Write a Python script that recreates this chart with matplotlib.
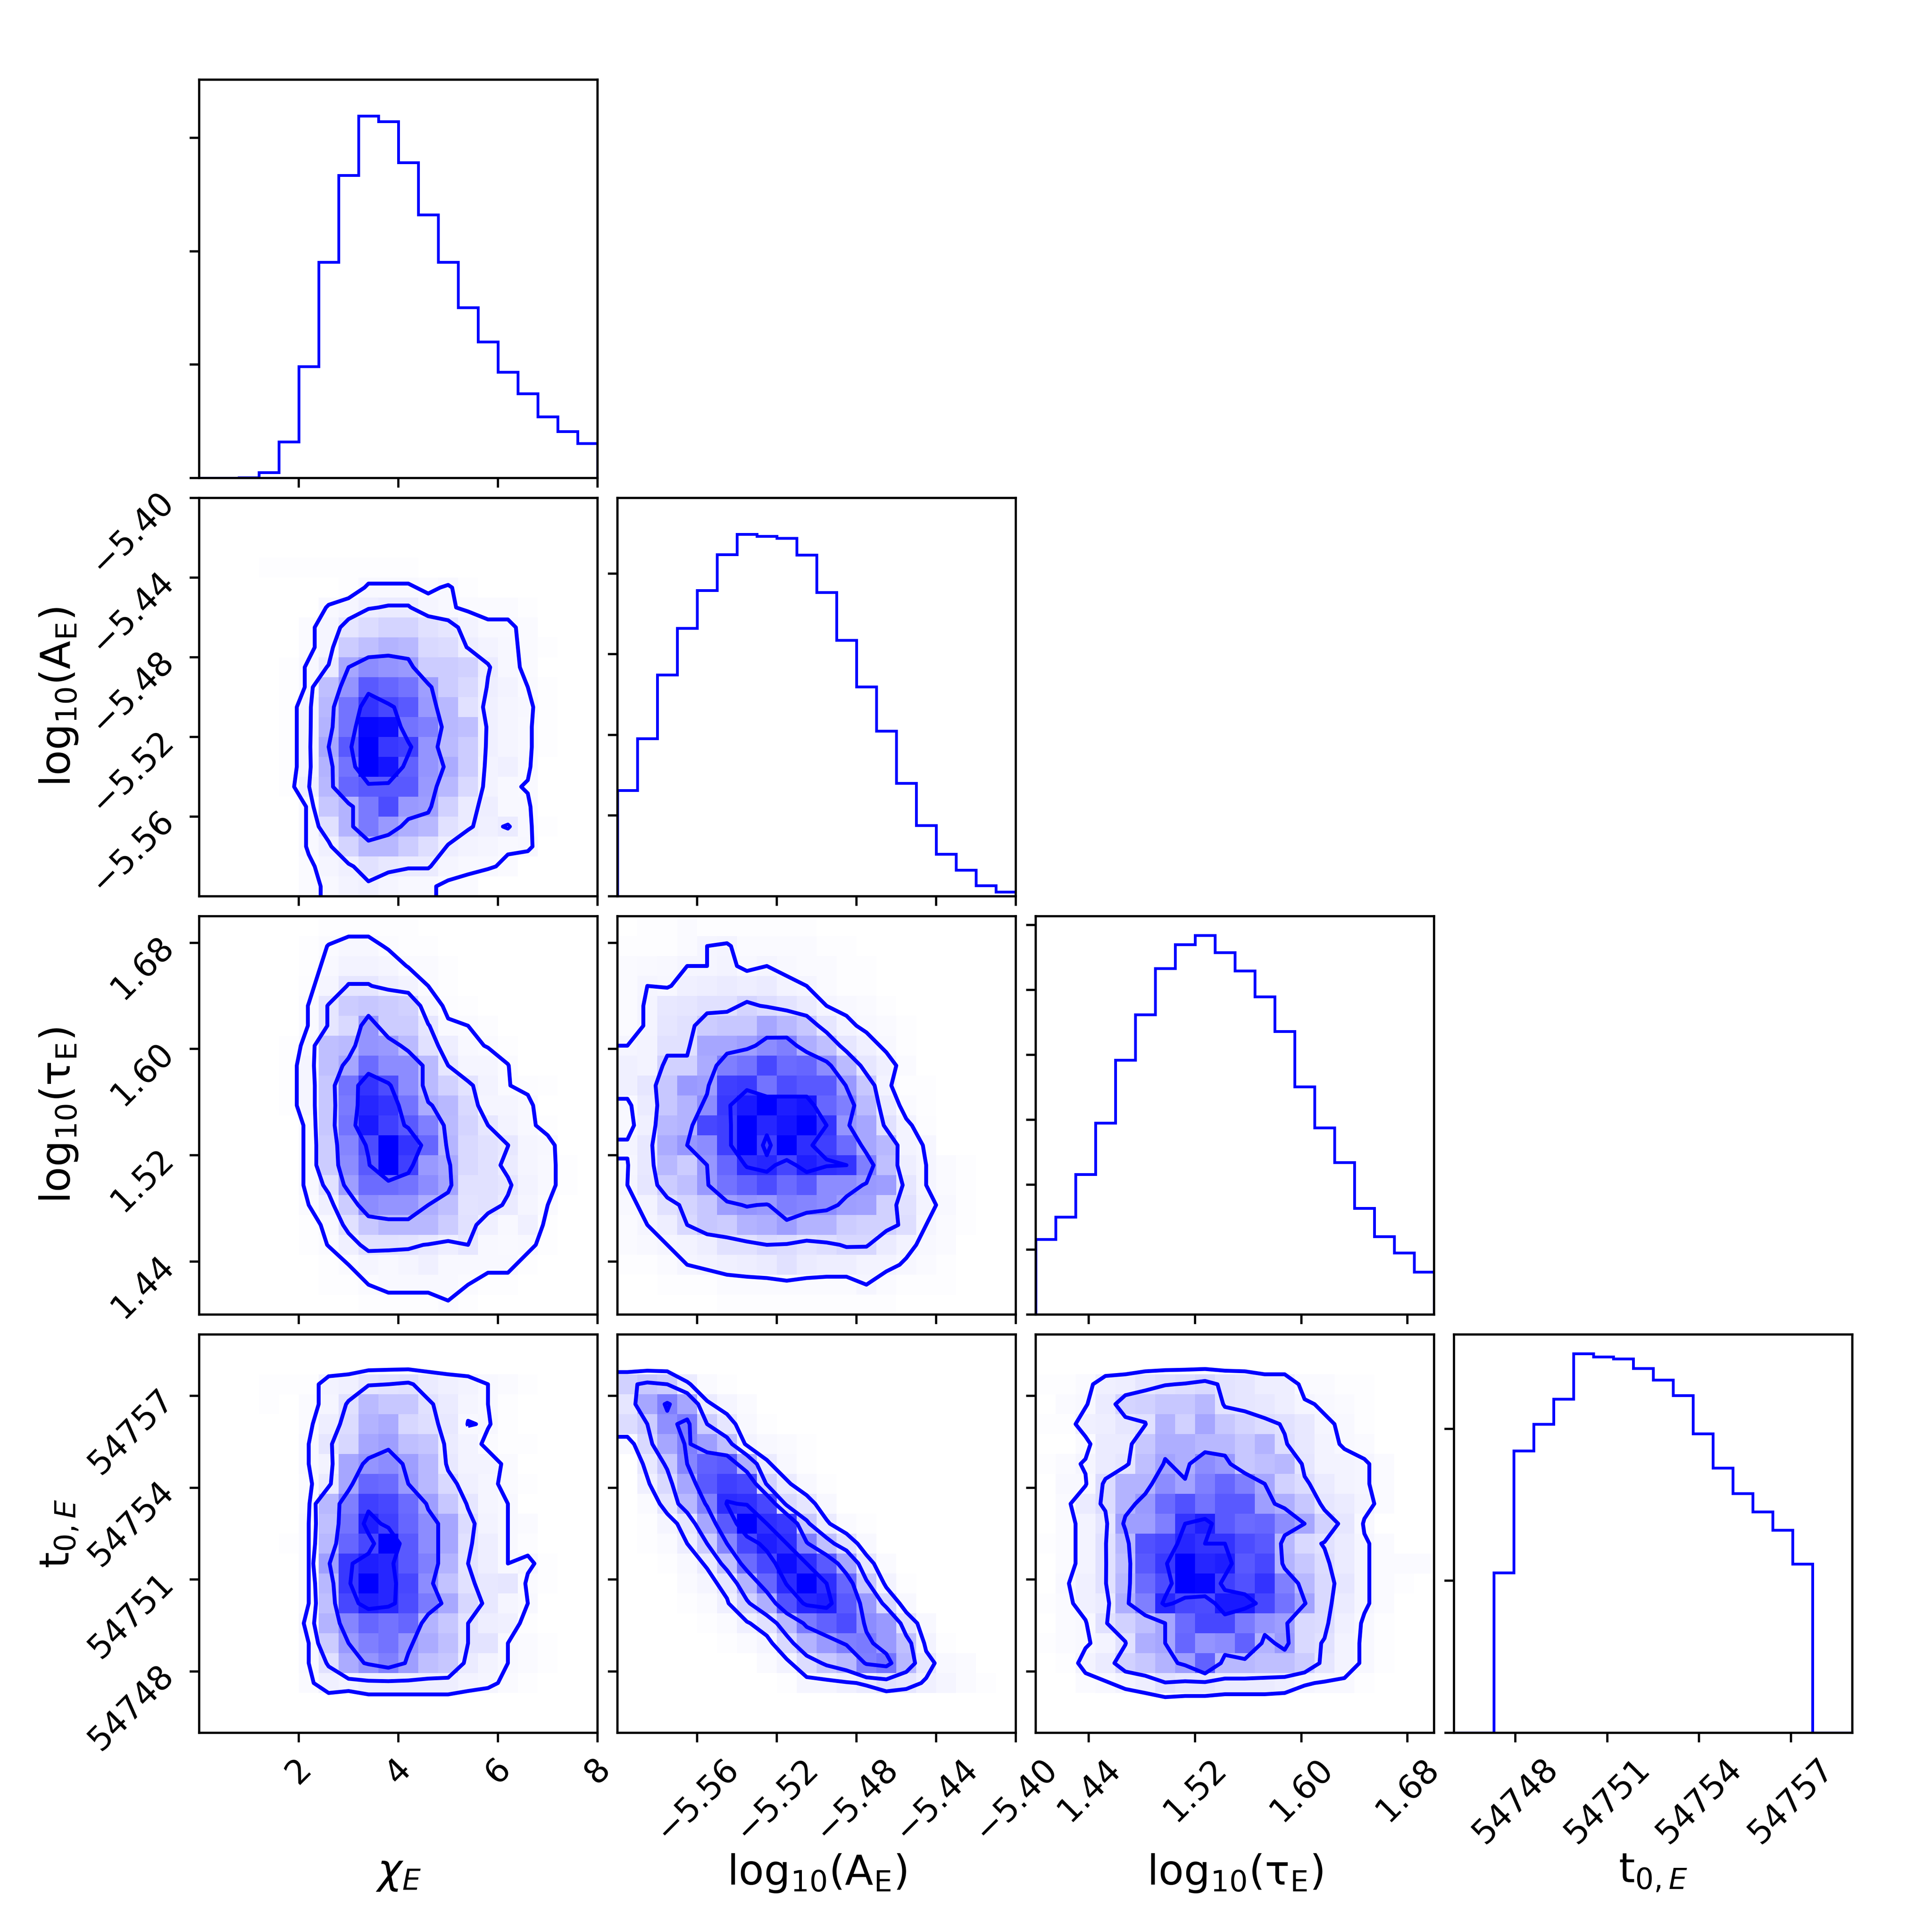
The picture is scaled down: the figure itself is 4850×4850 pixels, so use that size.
import numpy as np
import matplotlib
matplotlib.use("Agg")
import matplotlib.pyplot as plt
from matplotlib.colors import LinearSegmentedColormap

labels = [r"$\chi_E$", r"$\mathrm{log_{10}(A_E)}$", r"$\mathrm{log_{10}(\tau_E)}$", r"$\mathrm{t}_{0,E}$"]
limits = [(0, 8), (-5.6, -5.4), (1.4, 1.7), (54746, 54759)]
ticks = [[2, 4, 6, 8],
         [-5.56, -5.52, -5.48, -5.44, -5.40],
         [1.44, 1.52, 1.60, 1.68],
         [54748, 54751, 54754, 54757]]
tick_labels = [["2", "4", "6", "8"],
               ["\u22125.56", "\u22125.52", "\u22125.48", "\u22125.44", "\u22125.40"],
               ["1.44", "1.52", "1.60", "1.68"],
               ["54748", "54751", "54754", "54757"]]

# 1d histograms, read in units where 1000 = one y tick
hist_chi = [0, 0, 5, 50, 320, 984, 1903, 2670, 3193, 3142, 2780, 2323, 1903, 1505, 1201, 933, 744, 541, 411, 306]
hist_A = [1315, 1954, 2744, 3325, 3790, 4239, 4489, 4466, 4439, 4233, 3770, 3174, 2597, 2049, 1400, 879, 525, 328, 134, 56]
hist_tau = [1157, 1503, 2159, 2949, 3919, 4619, 5328, 5699, 5841, 5576, 5291, 4892, 4358, 3511, 2876, 2342, 1637, 1202, 949, 656]
hist_t0 = [0, 0, 1053, 1856, 2031, 2195, 2496, 2475, 2460, 2399, 2322, 2219, 1967, 1742, 1574, 1455, 1335, 1110, 0, 0]
hist_ticks = [[0, 1000, 2000, 3000],
              [0, 1000, 2000, 3000, 4000],
              [0, 1000, 2000, 3000, 4000, 5000, 6000],
              [0, 1000, 2000]]
hist_top = [1.1, 1.1, 1.05, 1.05]

# 2d histograms in percent of the peak, top row of the picture first
chi_A = [
    [0]*20,
    [0]*20,
    [0]*20,
    [0, 0, 0, 1, 1, 1, 1, 1, 1, 1, 1, 0, 0, 0, 0, 0, 0, 0, 0, 0],
    [0, 0, 0, 0, 0, 0, 0, 1, 3, 3, 3, 2, 3, 1, 0, 0, 0, 0, 0, 0],
    [0, 0, 0, 0, 0, 0, 3, 4, 7, 8, 8, 4, 3, 2, 2, 2, 1, 0, 0, 0],
    [0, 0, 0, 0, 0, 2, 4, 10, 14, 17, 17, 12, 10, 5, 3, 3, 2, 0, 0, 0],
    [0, 0, 0, 0, 0, 2, 4, 20, 25, 30, 28, 15, 14, 7, 5, 3.2, 2, 1, 0, 0],
    [0, 0, 0, 0, 1, 3, 8, 35, 45, 42, 40, 20, 20, 18, 8, 3.5, 2, 0, 0, 0],
    [0, 0, 0, 0, 1, 3, 25, 42, 65, 60, 55, 38, 20, 15, 7, 5, 2.6, 1, 0, 0],
    [0, 0, 0, 0, 1, 5, 28, 55, 80, 72, 65, 40, 28, 12, 6, 4, 3.2, 1, 0, 0],
    [0, 0, 0, 0, 1, 5, 30, 55, 97, 95, 55, 50, 28, 25, 6, 4, 3, 1, 0, 0],
    [0, 0, 0, 0, 1, 5, 35, 65, 100, 78, 75, 42, 27, 20, 6, 4, 3, 1, 0, 0],
    [0, 0, 0, 0, 1, 5, 30, 55, 100, 92, 62, 42, 33, 20, 5, 6, 3, 0, 0, 0],
    [0, 0, 0, 0, 1, 7, 28, 60, 65, 65, 65, 40, 28, 15, 5, 3, 2.4, 0, 0, 0],
    [0, 0, 0, 0, 0, 3, 22, 30, 52, 70, 40, 38, 18, 8, 7, 3, 3, 0, 0, 0],
    [0, 0, 0, 0, 0, 3, 12, 30, 52, 40, 32, 28, 12, 8, 6, 8, 3, 1, 0, 0],
    [0, 0, 0, 0, 0, 3, 6, 17, 28, 28, 20, 13, 7, 5, 4, 3, 3.4, 0, 0, 0],
    [0, 0, 0, 0, 0, 2, 4, 6, 12, 9, 8, 8, 4, 3, 3, 2, 0, 0, 0, 0],
    [0, 0, 0, 0, 0, 2, 3, 5, 6, 4, 3, 3, 2, 2, 0, 0, 0, 0, 0, 0],
]
chi_tau = [
    [0, 0, 0, 0, 0, 0, 1, 1, 1, 1, 1, 0, 0, 0, 0, 0, 0, 0, 0, 0],
    [0, 0, 0, 0, 0, 1, 2.3, 3.3, 3.3, 1.8, 1, 1, 0, 0, 0, 0, 0, 0, 0, 0],
    [0, 0, 0, 0, 0, 1, 3, 5, 5, 4, 2, 2, 1, 0, 0, 0, 0, 0, 0, 0],
    [0, 0, 0, 0, 0, 1.5, 4, 10, 10, 7, 5, 2.2, 1, 0, 0, 0, 0, 0, 0, 0],
    [0, 0, 0, 0, 0, 2.3, 10, 20, 22, 20, 18, 4, 1.5, 1, 0, 0, 0, 0, 0, 0],
    [0, 0, 0, 0, 0, 2.3, 10, 15, 42, 20, 20, 10, 2.6, 2.2, 1.5, 0, 0, 0, 0, 0],
    [0, 0, 0, 0, 1, 3, 25, 27, 42, 40, 27, 12, 7, 3, 2, 1, 0, 0, 0, 0],
    [0, 0, 0, 0, 1, 4, 25, 35, 58, 45, 45, 27, 9.5, 4, 4, 2.3, 0, 0, 0, 0],
    [0, 0, 0, 0, 1, 4, 22, 55, 80, 70, 45, 27, 18, 11, 5, 2.3, 1.5, 1, 0, 0],
    [0, 0, 0, 0, 1, 4, 22, 52, 85, 80, 55, 33, 28, 15, 4, 4, 3, 0, 0, 0],
    [0, 0, 0, 0, 0, 3, 22, 55, 90, 75, 65, 50, 27, 17, 9.5, 5, 3, 1, 0, 0],
    [0, 0, 0, 0, 0, 3, 20, 48, 70, 100, 80, 60, 29, 15, 12, 9.6, 4, 3.4, 0, 0],
    [0, 0, 0, 0, 0, 3, 20, 45, 65, 100, 75, 40, 34, 15, 12, 8, 4, 3, 1, 0],
    [0, 0, 0, 0, 0, 3, 12, 38, 58, 58, 55, 45, 36, 12, 12, 10.5, 5, 3, 1, 0],
    [0, 0, 0, 0, 0, 2.2, 6, 20, 45, 42, 42, 32, 25, 11, 12, 8.5, 4, 2.2, 0, 0],
    [0, 0, 0, 0, 0, 1, 3, 12, 22, 28, 28, 28, 20, 12, 6, 3, 6, 1, 0, 0],
    [0, 0, 0, 0, 0, 1, 2.3, 6, 12, 12, 11, 9, 7, 9.5, 3, 2.5, 3, 1, 0, 0],
    [0, 0, 0, 0, 0, 0, 1, 2.2, 4, 3, 4, 6, 3, 3, 3, 3, 1, 0, 0, 0],
    [0, 0, 0, 0, 0, 0, 1, 1, 2.2, 3, 3, 3, 3, 2.2, 1, 1, 0, 0, 0, 0],
    [0, 0, 0, 0, 0, 0, 0, 0, 1, 1, 1, 1, 2, 1, 0, 0, 0, 0, 0, 0],
]
A_tau = [
    [0, 1, 1, 2, 1, 1, 1, 1, 1, 1, 0, 0, 0, 0, 0, 0, 0, 0, 0, 0],
    [1, 1, 1, 2, 4, 4.5, 2, 2, 2, 2, 1, 1, 0, 0, 0, 0, 0, 0, 0, 0],
    [2, 2.5, 3, 4, 4, 5, 3, 4, 3, 2, 2, 1, 1, 0, 0, 0, 0, 0, 0, 0],
    [2, 4, 3.5, 6, 7, 8, 7, 8, 5, 4, 2, 1, 1, 0, 0, 0, 0, 0, 0, 0],
    [2, 4.5, 9, 10, 12, 12, 17, 14, 11, 8, 4, 3, 2, 1, 0, 0, 0, 0, 0, 0],
    [2, 4.5, 10, 12, 20, 22, 22, 35, 28, 22, 10, 5, 3, 2, 1, 0, 0, 0, 0, 0],
    [4, 5, 12, 12, 35, 35, 38, 45, 50, 32, 25, 10, 6, 3, 1, 0, 0, 0, 0, 0],
    [6, 5, 18, 18, 33, 50, 55, 72, 58, 60, 45, 27, 10, 6, 2, 0, 0, 0, 0, 0],
    [6, 10, 22, 40, 38, 75, 77, 55, 70, 65, 65, 40, 22, 5, 1, 1, 0, 0, 0, 0],
    [3, 8, 22, 30, 45, 78, 90, 100, 88, 92, 60, 50, 27, 8, 2, 1, 0, 0, 0, 0],
    [3, 6, 28, 30, 72, 75, 100, 85, 92, 100, 80, 42, 35, 12, 5, 1.5, 0, 0, 0, 0],
    [4.4, 9, 33, 41, 45, 75, 100, 75, 100, 82, 75, 58, 35, 28, 5, 3.8, 0, 0, 0, 0],
    [3.8, 9, 28, 20, 41, 60, 82, 85, 73, 88, 82, 80, 50, 25, 7, 4, 2, 1, 0, 0],
    [4, 10, 20, 25, 40, 55, 62, 70, 58, 65, 45, 45, 40, 38, 10, 4, 2, 1, 0, 0],
    [3, 5, 12, 17, 22, 38, 42, 40, 50, 48, 45, 38, 37, 18, 12, 5, 3, 1, 0, 0],
    [2, 4, 7, 15, 22, 20, 30, 32, 38, 30, 30, 20, 18, 18, 13, 4, 2, 1, 0, 0],
    [2, 3, 4, 5, 7, 12, 12, 15, 14, 11, 13, 16, 16, 8, 5, 3, 2, 0, 0, 0],
    [1, 1, 2, 4, 5, 6, 7, 8, 12, 8, 7, 7, 5, 5, 3.5, 2, 1, 0, 0, 0],
    [0, 0, 1, 1, 1, 2, 2, 2, 2, 2, 2, 2, 4, 2, 1, 1, 1, 0, 0, 0],
    [0, 0, 0, 0, 0, 1, 1, 1, 1, 1, 1, 1, 1, 1, 0, 0, 0, 0, 0, 0],
]
chi_t0 = [
    [0]*20,
    [0]*20,
    [0, 0, 0, 1, 1, 1, 5, 6, 10, 11, 12, 8, 6, 5, 3, 2, 1, 0, 0, 0],
    [0, 0, 0, 1, 0, 2, 4, 12, 27, 22, 22, 12, 8, 4, 3, 1, 0, 0, 0, 0],
    [0, 0, 0, 0, 0, 2, 7, 14, 30, 33, 16, 13, 9, 2.8, 3.3, 1, 0, 0, 0, 0],
    [0, 0, 0, 0, 0, 3, 10, 16, 35, 38, 25, 23, 8, 5, 2, 1, 1, 0, 0, 0],
    [0, 0, 0, 0, 0, 3, 5, 35, 42, 45, 38, 28, 9, 5, 5, 2, 0, 0, 0, 0],
    [0, 0, 0, 0, 0, 2, 8, 35, 60, 58, 40, 28, 15, 6, 4, 2, 1, 0, 0, 0],
    [0, 0, 0, 0, 0, 2, 28, 50, 75, 72, 58, 38, 22, 10, 4, 3, 0, 0, 0, 0],
    [0, 0, 0, 0, 0, 3, 25, 55, 88, 75, 60, 45, 35, 14, 5, 3, 2, 0, 0, 0],
    [0, 0, 0, 0, 1, 3, 28, 60, 72, 100, 65, 45, 35, 12, 7, 3, 1.5, 0, 0, 0],
    [0, 0, 0, 0, 0, 3, 38, 78, 88, 85, 65, 50, 30, 11, 7, 3, 4, 1, 0, 0],
    [0, 0, 0, 0, 0, 3, 28, 78, 100, 85, 72, 45, 24, 12, 9, 10, 2, 1, 0, 0],
    [0, 0, 0, 0, 0, 3, 25, 72, 88, 85, 70, 52, 34, 16, 9, 4, 3, 0, 0, 0],
    [0, 0, 0, 0, 0, 4, 30, 48, 60, 55, 60, 30, 22, 11, 7, 6, 1, 0, 0, 0],
    [0, 0, 0, 0, 0, 3, 20, 40, 50, 55, 42, 33, 25, 11, 11, 3, 2, 1, 0, 0],
    [0, 0, 0, 0, 0, 3, 12, 33, 42, 50, 38, 25, 22, 8, 5, 3, 2, 1, 0, 0],
    [0, 0, 0, 0, 0, 2, 6, 5, 7, 7, 7, 7, 7, 5, 4, 2, 1, 0, 0, 0],
    [0]*20,
    [0]*20,
]
A_t0 = [
    [0]*20,
    [0]*20,
    [18, 22, 20, 8, 2, 1, 0, 0, 0, 0, 0, 0, 0, 0, 0, 0, 0, 0, 0, 0],
    [10, 35, 50, 35, 8, 4, 2, 0, 0, 0, 0, 0, 0, 0, 0, 0, 0, 0, 0, 0],
    [14, 20, 44, 52, 20, 10, 3, 1, 0, 0, 0, 0, 0, 0, 0, 0, 0, 0, 0, 0],
    [3, 15, 35, 50, 38, 25, 5, 3, 2, 1, 0, 0, 0, 0, 0, 0, 0, 0, 0, 0],
    [0, 9, 22, 48, 62, 65, 32, 8, 3, 1, 0, 0, 0, 0, 0, 0, 0, 0, 0, 0],
    [0, 6, 15, 35, 65, 75, 72, 18, 8, 3, 1, 0, 0, 0, 0, 0, 0, 0, 0, 0],
    [0, 2, 10, 28, 50, 83, 81, 72, 15, 10, 3, 0, 0, 0, 0, 0, 0, 0, 0, 0],
    [0, 1, 4, 10, 35, 65, 100, 82, 78, 22, 8, 2, 1, 0, 0, 0, 0, 0, 0, 0],
    [0, 1, 2, 7, 20, 48, 72, 88, 82, 50, 25, 12, 3, 0, 0, 0, 0, 0, 0, 0],
    [0, 0, 1, 3, 8, 25, 58, 72, 95, 82, 65, 35, 10, 2, 0, 0, 0, 0, 0, 0],
    [0, 0, 0, 2, 4, 10, 30, 60, 83, 100, 82, 60, 22, 5, 1, 0, 0, 0, 0, 0],
    [0, 0, 0, 1, 2, 6, 18, 32, 68, 85, 88, 65, 40, 15, 3, 0, 0, 0, 0, 0],
    [0, 0, 0, 0, 1, 2, 6, 12, 28, 52, 62, 70, 45, 40, 12, 3, 0, 0, 0, 0],
    [0, 0, 0, 0, 0, 1, 2, 4, 15, 30, 40, 50, 52, 40, 25, 5, 1, 0, 0, 0],
    [0, 0, 0, 0, 0, 0, 0, 2, 5, 14, 22, 28, 50, 55, 28, 10, 3, 2, 0, 0],
    [0, 0, 0, 0, 0, 0, 0, 0, 1, 4, 4, 6, 8, 12, 10, 6, 4, 2, 1, 0],
    [0]*20,
    [0]*20,
]
tau_t0 = [
    [0]*20,
    [0]*20,
    [1, 1, 2, 6, 7, 10, 12, 13, 15, 11, 10, 7, 7, 2, 2, 1, 1, 0, 0, 0],
    [0, 2, 3, 8, 17, 18, 22, 22, 28, 11, 10, 9, 7, 4, 3, 2, 1, 0, 0, 0],
    [1, 1, 6, 7, 10, 12, 30, 18, 35, 22, 17, 14, 12, 9, 4, 3, 1, 0, 0, 0],
    [0, 0, 2, 8, 8, 22, 32, 32, 28, 28, 22, 30, 13, 9, 5, 3, 2, 0, 0, 0],
    [1, 2, 4, 8, 10, 25, 36, 32, 45, 40, 22, 25, 28, 10, 5, 5, 4, 2, 0, 0],
    [0, 3, 3, 14, 30, 30, 45, 36, 50, 60, 50, 35, 18, 14, 8, 5, 4, 2, 0, 0],
    [0, 2, 8, 14, 30, 40, 58, 68, 55, 65, 65, 38, 32, 22, 10, 8, 5, 2, 0, 0],
    [0, 2, 5, 10, 38, 38, 50, 80, 88, 65, 58, 60, 45, 35, 18, 10, 3, 0, 0, 0],
    [1, 2, 5, 12, 28, 68, 72, 85, 80, 80, 70, 65, 28, 15, 12, 8, 4, 2, 0, 0],
    [0, 2, 5, 12, 25, 65, 78, 100, 85, 88, 65, 72, 30, 22, 14, 8, 4, 2, 2, 2],
    [0, 3, 6, 12, 28, 58, 70, 100, 98, 75, 68, 80, 50, 28, 15, 10, 4, 2, 1, 0],
    [1, 2, 6, 8, 32, 50, 85, 72, 70, 90, 90, 72, 55, 36, 15, 8, 4, 2, 0, 0],
    [0, 2, 3, 12, 18, 25, 35, 58, 72, 72, 52, 42, 38, 15, 14, 6, 3, 1, 0, 0],
    [1, 2, 3, 5, 12, 32, 35, 60, 42, 45, 62, 30, 40, 15, 12, 5, 3, 1, 0, 0],
    [0, 1, 5, 8, 18, 22, 30, 38, 62, 28, 28, 25, 25, 20, 10, 5, 3, 1, 0, 0],
    [0, 0, 2, 3, 5, 7, 12, 10, 10, 8, 8, 8, 7, 4, 3, 3, 1, 0, 0, 0],
    [0]*20,
    [0]*20,
]

hists = [hist_chi, hist_A, hist_tau, hist_t0]
grids = {(1, 0): chi_A, (2, 0): chi_tau, (2, 1): A_tau,
         (3, 0): chi_t0, (3, 1): A_t0, (3, 2): tau_t0}
# contour levels of each panel, same percent scale as the grids
levels = {(1, 0): [2.6, 7.5, 35, 70], (2, 0): [2.2, 9.5, 32, 67], (2, 1): [4, 15, 41, 80],
          (3, 0): [3, 11, 40, 80], (3, 1): [7, 20, 48, 82], (3, 2): [3.5, 12.5, 35, 80]}

density_cmap = LinearSegmentedColormap.from_list("density", ["white", "blue"])


def pad_grid(H, xc, yc):
    # extend the grid past the edges so contours run off the panel
    dx = xc[1] - xc[0]
    dy = yc[1] - yc[0]
    H2 = np.pad(H, 1, mode="edge")
    H2 = np.pad(H2, 1, mode="constant")
    x2 = np.concatenate([xc[0] + np.array([-2, -1]) * dx, xc, xc[-1] + np.array([1, 2]) * dx])
    y2 = np.concatenate([yc[0] + np.array([-2, -1]) * dy, yc, yc[-1] + np.array([1, 2]) * dy])
    return x2, y2, H2


K = 4
fig, axes = plt.subplots(K, K, figsize=(9.7, 9.7), dpi=500)
fig.subplots_adjust(left=1.0 / 9.7, bottom=1.0 / 9.7, right=1 - 0.4 / 9.7, top=1 - 0.4 / 9.7,
                    wspace=0.05, hspace=0.05)

for i in range(K):
    for j in range(K):
        ax = axes[i, j]
        if j > i:
            ax.set_frame_on(False)
            ax.set_xticks([])
            ax.set_yticks([])
            continue

        xedges = np.linspace(limits[j][0], limits[j][1], 21)
        xc = 0.5 * (xedges[1:] + xedges[:-1])

        if i == j:
            ax.hist(xc, bins=xedges, weights=hists[i], histtype="step", color="b", lw=1.0)
            ax.set_ylim(0, hist_top[i] * max(hists[i]))
            ax.set_yticks(hist_ticks[i])
            ax.set_yticklabels([])
        else:
            yedges = np.linspace(limits[i][0], limits[i][1], 21)
            yc = 0.5 * (yedges[1:] + yedges[:-1])
            H = np.flipud(np.array(grids[(i, j)], dtype=float))
            ax.pcolormesh(xedges, yedges, H, cmap=density_cmap, vmin=0, vmax=100)
            x2, y2, H2 = pad_grid(H, xc, yc)
            ax.contour(x2, y2, H2, levels=levels[(i, j)], colors="b", linewidths=1.4)
            ax.set_ylim(limits[i])
            ax.set_yticks(ticks[i])
            if j == 0:
                ax.set_yticklabels(tick_labels[i], rotation=45, fontsize=12)
                ax.yaxis.set_label_coords(-0.3, 0.5)
                ax.set_ylabel(labels[i], fontsize=15)
            else:
                ax.set_yticklabels([])

        ax.set_xlim(limits[j])
        ax.set_xticks(ticks[j])
        if i == K - 1:
            ax.set_xticklabels(tick_labels[j], rotation=45, fontsize=12)
            ax.xaxis.set_label_coords(0.5, -0.3)
            ax.set_xlabel(labels[j], fontsize=15)
        else:
            ax.set_xticklabels([])

fig.savefig("out.png", dpi=500)
